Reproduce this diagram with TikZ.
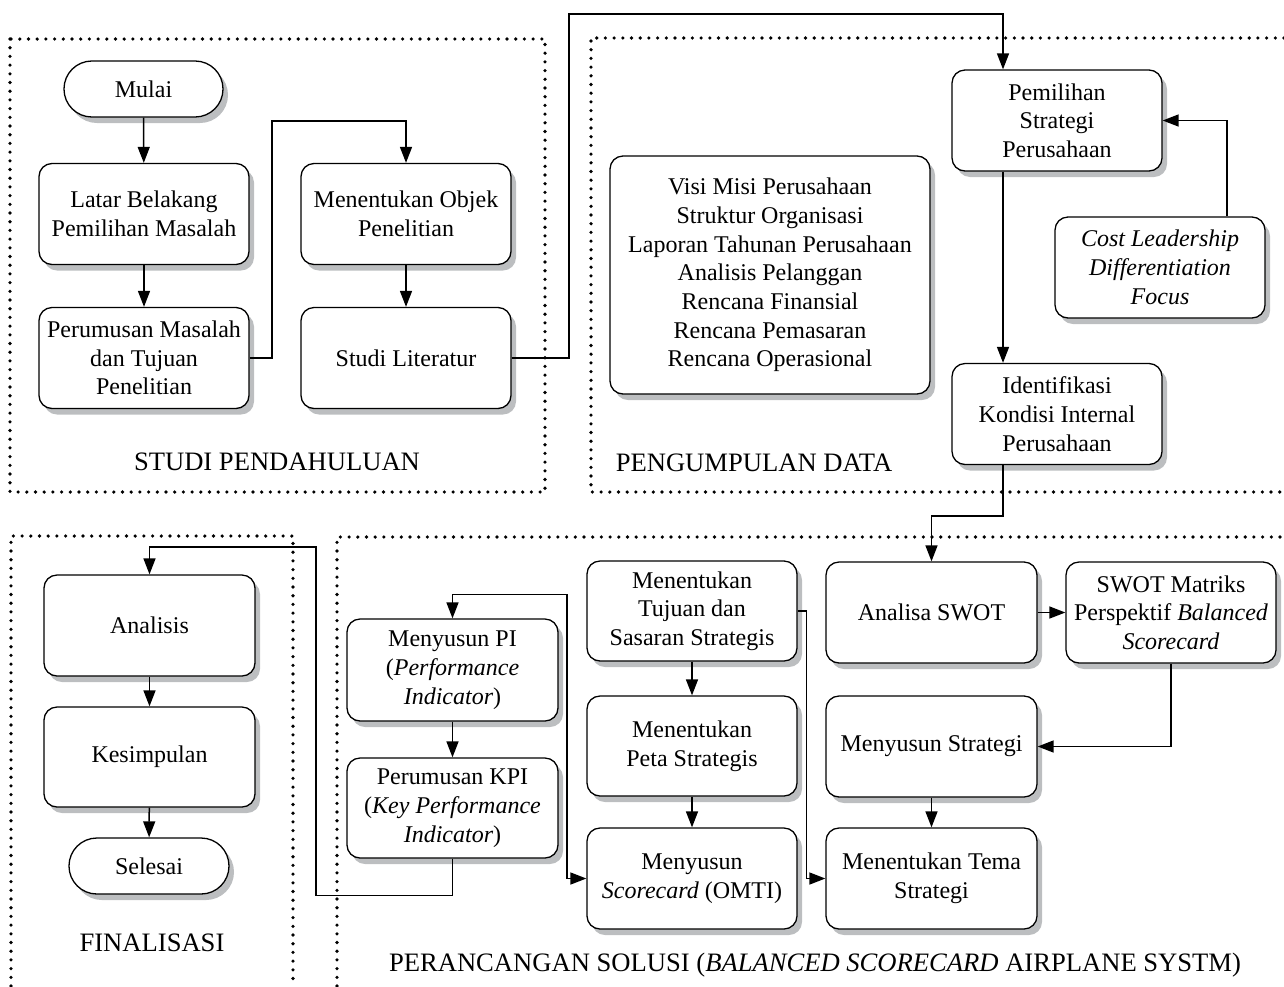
\documentclass[tikz,border=0pt]{standalone}
\usepackage{fontspec}
\setmainfont{Liberation Serif}
\usetikzlibrary{arrows.meta,shadows,calc}
\definecolor{shadowgray}{RGB}{188,190,192}
\newcommand\boxfont{\fontsize{24}{28.7}\selectfont}
\newcommand\regfont{\fontsize{26.6}{30}\selectfont}
\begin{document}
\begin{tikzpicture}[x=1pt,y=-1pt,
 box/.style={draw, line width=1.3pt, rounded corners=13pt, fill=white,
   drop shadow={shadow xshift=5pt, shadow yshift=-6pt, fill=shadowgray, opacity=1},
   align=center, inner sep=2pt, minimum width=210pt, minimum height=101pt, font=\boxfont},
 term/.style={box, rounded corners=27.9pt, minimum width=159pt, minimum height=56pt},
 tip/.style={},
 arr/.style={line width=1.5pt, -{Triangle[length=16pt,width=12pt]}},
 region/.style={line width=3.6pt, dash pattern=on 0pt off 8.7pt, line cap=round},
 title/.style={font=\regfont, inner sep=0pt}]
\useasboundingbox (0,0) rectangle (1284,986);
% regions
\draw[region] (10,39) rectangle (545,492);
\draw[region] (1284,38) -- (591,38) -- (591,492) -- (1284,492);
\draw[region] (11,986) -- (11,536) -- (293,536) -- (293,986);
\draw[region] (337,986) -- (337,537) -- (1284,537);
\node[title] (t1) at (277,462) {STUDI PENDAHULUAN};
\node[title] (t2) at (754,463) {PENGUMPULAN DATA};
\node[title] (t3) at (152,943) {FINALISASI};
\node[title] (t4) at (815,965) {PERANCANGAN SOLUSI (\textit{BALANCED SCORECARD} AIRPLANE SYSTM)};
% coordinates
\coordinate (cx) at (1003,0);
% nodes
\node[term] (mulai) at (143.5,89) {Mulai};
\node[box] (latar) at (144,214) {Latar Belakang\\Pemilihan Masalah};
\node[box] (perumusan) at (144,358) {Perumusan Masalah\\dan Tujuan\\Penelitian};
\node[box] (objek) at (406,214) {Menentukan Objek\\Penelitian};
\node[box] (studi) at (406,358) {Studi Literatur};
\node[box] (pemilihan) at (1057,120.5) {Pemilihan\\Strategi\\Perusahaan};
\node[box] (identifikasi) at (1057,414) {Identifikasi\\Kondisi Internal\\Perusahaan};
\node[box] (cost) at (1160,267.5) {\textit{Cost Leadership}\\\textit{Differentiation}\\\textit{Focus}};
\node[box, minimum width=320pt, minimum height=238pt] (visi) at (770,275) {Visi Misi Perusahaan\\Struktur Organisasi\\Laporan Tahunan Perusahaan\\Analisis Pelanggan\\Rencana Finansial\\Rencana Pemasaran\\Rencana Operasional};
\node[box, minimum width=211pt] (analisa) at (931.5,612.5) {Analisa SWOT};
\node[box] (swotm) at (1171,612.5) {SWOT Matriks\\Perspektif \textit{Balanced}\\\textit{Scorecard}};
\node[box, minimum width=211pt] (menyusunstr) at (931.5,746.5) {Menyusun Strategi};
\node[box, minimum width=211pt] (tema) at (931.5,878.5) {Menentukan Tema\\Strategi};
\node[box, minimum height=100pt] (tujuan) at (692,611) {Menentukan\\Tujuan dan\\Sasaran Strategis};
\node[box, minimum height=100pt] (peta) at (692,746) {Menentukan\\Peta Strategis};
\node[box] (scorecard) at (692,878.5) {Menyusun\\\textit{Scorecard} (OMTI)};
\node[box, minimum width=211pt, minimum height=102pt] (pi) at (452.5,670) {Menyusun PI\\(\textit{Performance}\\\textit{Indicator})};
\node[box, minimum width=211pt, minimum height=100pt] (kpi) at (452.5,808) {Perumusan KPI\\(\textit{Key Performance}\\\textit{Indicator})};
\node[box, minimum width=211pt] (analisis) at (149.5,625.5) {Analisis};
\node[box, minimum width=211pt, minimum height=100pt] (kesimpulan) at (149.5,757) {Kesimpulan};
\node[term, minimum width=160pt] (selesai) at (149,866) {Selesai};
% connectors
\draw[arr] (mulai) -- (latar);
\draw[arr] (latar) -- (perumusan);
\draw[arr] (perumusan.east) -| (272,121) -| (objek.north);
\draw[arr] (objek) -- (studi);
\draw[arr] (studi.east) -| (569,14) -| (pemilihan.north -| cx);
\draw[arr] ($(cost.north)+(67,0)$) |- (pemilihan.east);
\draw[arr] (pemilihan.south -| cx) -- (identifikasi.north -| cx);
\draw[arr] (identifikasi.south -| cx) -- ++(0,51) -| (analisa.north);
\draw[arr] (analisa) -- (swotm);
\draw[arr] (swotm.south) |- (menyusunstr.east);
\draw[arr] (menyusunstr) -- (tema);
\draw[arr] (tujuan.east) -- ++(9,0) |- (tema.west);
\draw[arr] (tujuan) -- (peta);
\draw[arr] (peta) -- (scorecard);
\draw[arr, {Triangle[length=16pt,width=12pt]}-{Triangle[length=16pt,width=12pt]}] (pi.north) -- ++(0,-24) -| (567,700) |- (scorecard.west);
\draw[arr] (pi) -- (kpi);
\draw[arr] (kpi.south) -- ++(0,37) -| (316,547) -| (analisis.north);
\draw[arr] (analisis) -- (kesimpulan);
\draw[arr] (kesimpulan) -- (selesai);
\end{tikzpicture}
\end{document}
